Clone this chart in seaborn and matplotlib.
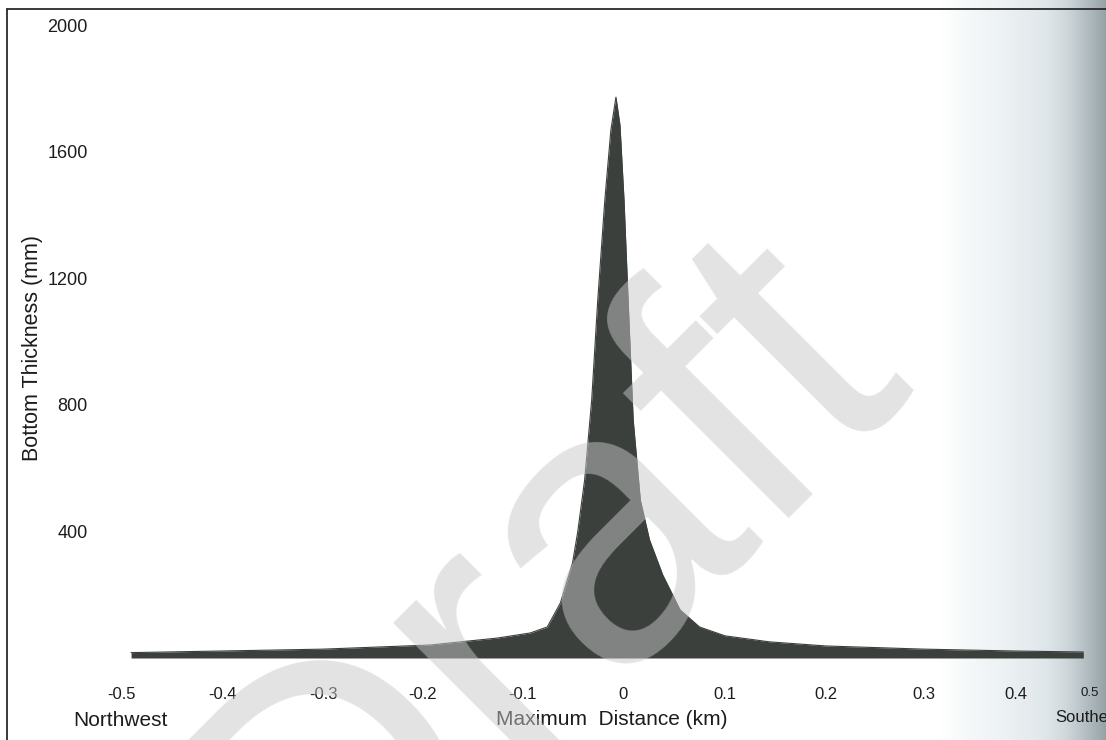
import numpy as np
import matplotlib
matplotlib.use("Agg")
import matplotlib.pyplot as plt
import seaborn as sns
from matplotlib.lines import Line2D

# ---------------- data ----------------
distance_km = [-0.490, -0.402, -0.300, -0.193, -0.125, -0.092, -0.075, -0.062,
               -0.050, -0.045, -0.038, -0.031, -0.025, -0.018, -0.012, -0.007,
               -0.003, 0.001, 0.005, 0.010, 0.017, 0.026, 0.039, 0.056,
               0.075, 0.100, 0.144, 0.200, 0.300, 0.400, 0.491]
thickness_mm = [17, 22, 28, 41, 63, 79, 98, 174,
                300, 395, 562, 815, 1131, 1447, 1668, 1772,
                1684, 1447, 1131, 752, 499, 373, 262, 152,
                98, 70, 51, 38, 28, 22, 19]

x_ticks = [-0.5, -0.4, -0.3, -0.2, -0.1, 0.0, 0.1, 0.2, 0.3, 0.4, 0.5]
x_tick_labels = ["-0.5", "-0.4", "-0.3", "-0.2", "-0.1", "0", "0.1", "0.2", "0.3", "0.4", "0.5"]
y_ticks = [400, 800, 1200, 1600, 2000]
y_tick_labels = ["400", "800", "1200", "1600", "2000"]

x_label = "Maximum  Distance (km)"
y_label = "Bottom Thickness (mm)"
left_end_label = "Northwest"
right_end_label = "Southeast"
watermark = "Draft"

# ---------------- styling ----------------
W, H = 1106, 740
sns.set_theme(style="white")
plt.rcParams["font.family"] = ["Liberation Sans", "DejaVu Sans"]
TXT = "#1c1c1c"

fig = plt.figure(figsize=(W / 100, H / 100), dpi=100)
fig.patch.set_facecolor("white")

# scanned-page gutter shadow on the right
bg = fig.add_axes([0, 0, 1, 1], zorder=0)
cols = np.arange(W)
stops_x = [0, 940, 965, 1005, 1045, 1065, 1080, 1095, 1106]
stops_c = np.array([[255, 255, 255], [255, 255, 255], [246, 249, 250], [236, 241, 243],
                    [224, 231, 234], [208, 216, 220], [188, 198, 202], [166, 177, 181],
                    [150, 161, 166]]) / 255.0
grad = np.stack([np.interp(cols, stops_x, stops_c[:, k]) for k in range(3)], axis=-1)
bg.imshow(grad[np.newaxis, :, :], aspect="auto", extent=[0, 1, 0, 1])
bg.set_xlim(0, 1); bg.set_ylim(0, 1)
bg.axis("off")

# page is slightly warped by the scan: tick label positions in pixels
tick_px = np.array([121, 222, 323, 423, 522, 623, 725, 826, 924, 1016, 1090], float)
tv = np.array(x_ticks, float)

def fwd(x):
    x = np.asarray(x, float)
    y = np.interp(x, tv, tick_px)
    y = np.where(x < tv[0], tick_px[0] + (x - tv[0]) * 1010, y)
    y = np.where(x > tv[-1], tick_px[-1] + (x - tv[-1]) * 740, y)
    return y

def inv(p):
    p = np.asarray(p, float)
    x = np.interp(p, tick_px, tv)
    x = np.where(p < tick_px[0], tv[0] + (p - tick_px[0]) / 1010, x)
    x = np.where(p > tick_px[-1], tv[-1] + (p - tick_px[-1]) / 740, x)
    return x

y0_px, y2000_px = 658, 25
ax = fig.add_axes([tick_px[0] / W, 1 - y0_px / H,
                   (tick_px[-1] - tick_px[0]) / W, (y0_px - y2000_px) / H], zorder=1)
ax.patch.set_alpha(0)
ax.set_xscale("function", functions=(fwd, inv))

fill_color = "#3b403d"
sns.lineplot(x=distance_km, y=thickness_mm, ax=ax, color=fill_color, lw=0.8)
ax.fill_between(distance_km, 0, thickness_mm, color=fill_color, lw=0)

ax.set_xlim(-0.5, 0.5)
ax.set_ylim(0, 2000)
ax.set_xticks(x_ticks)
ax.set_xticklabels(x_tick_labels)
ax.set_yticks(y_ticks)
ax.set_yticklabels(y_tick_labels)
ax.tick_params(axis="x", length=0, pad=21, labelsize=12, labelcolor=TXT)
ax.tick_params(axis="y", length=0, pad=24, labelsize=13, labelcolor=TXT)
ax.get_xticklabels()[-1].set_fontsize(9.5)
for s in ax.spines.values():
    s.set_visible(False)
ax.grid(False)

ax.set_ylabel(y_label, fontsize=15.5, color=TXT)
ax.yaxis.set_label_coords(-0.08, 0.49)
ax.set_xlabel(x_label, fontsize=15, color=TXT)
ax.xaxis.set_label_coords((612 - tick_px[0]) / (tick_px[-1] - tick_px[0]), -0.082)

fig.text(120 / W, 1 - 720 / H, left_end_label, ha="center", va="center",
         fontsize=15, color=TXT)
fig.text(1055 / W, 1 - 718 / H, right_end_label, ha="left", va="center",
         fontsize=12, color=TXT)

# page frame lines
fig.add_artist(Line2D([7 / W, 7 / W], [0, 1 - 9 / H], transform=fig.transFigure,
                      color="#2a2a2a", lw=1.3, zorder=6))
fig.add_artist(Line2D([7 / W, 1], [1 - 9 / H, 1 - 9 / H], transform=fig.transFigure,
                      color="#2a2a2a", lw=1.3, zorder=6))

# "Draft" watermark
fig.text(312 / W, 1 - 962 / H, watermark, rotation=45, rotation_mode="anchor",
         ha="left", va="baseline", fontsize=280, color="#c8c8c8", alpha=0.5,
         zorder=10, family="Liberation Sans")

fig.savefig("out.png", dpi=100)
